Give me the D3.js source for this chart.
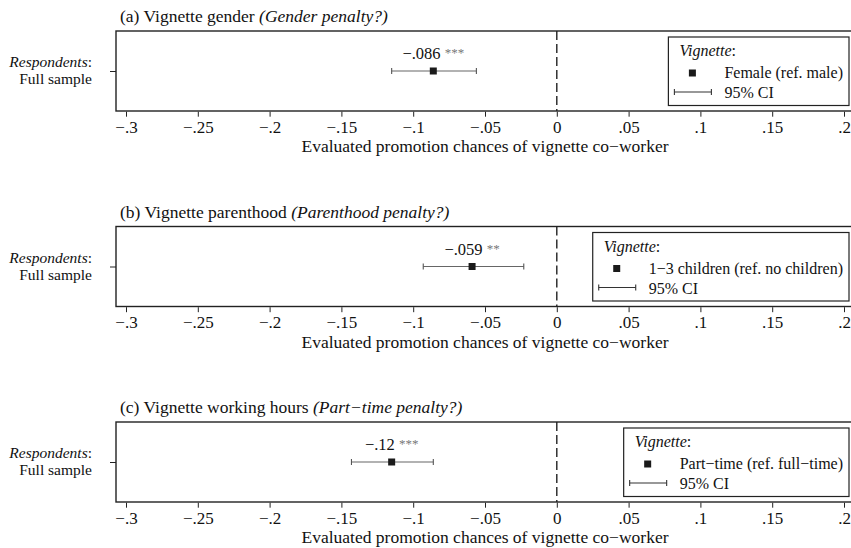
<!DOCTYPE html>
<html>
<head>
<meta charset="utf-8">
<script src="https://cdn.jsdelivr.net/npm/d3@7"></script>
<style>
  body { margin: 0; background: #fff; }
  svg { display: block; font-family: "Liberation Serif", "DejaVu Serif", serif; }
</style>
</head>
<body>
<svg id="chart" width="851" height="548"></svg>
<script>
'use strict';

// chart values
const panelTitles = ['(a) Vignette gender', '(b) Vignette parenthood', '(c) Vignette working hours'];
const panelSubtitles = ['Gender penalty?', 'Parenthood penalty?', 'Part\u2212time penalty?'];
const legendLabels = ['Female (ref. male)', '1\u22123 children (ref. no children)', 'Part\u2212time (ref. full\u2212time)'];
const estimates = [-0.086, -0.059, -0.115];
const ciLower = [-0.115, -0.093, -0.143];
const ciUpper = [-0.056, -0.023, -0.086];
const estimateLabels = ['\u2212.086', '\u2212.059', '\u2212.12'];
const stars = ['***', '**', '***'];
const xTicks = [-0.3, -0.25, -0.2, -0.15, -0.1, -0.05, 0, 0.05, 0.1, 0.15, 0.2];
const xTickLabels = ['\u2212.3', '\u2212.25', '\u2212.2', '\u2212.15', '\u2212.1', '\u2212.05', '0', '.05', '.1', '.15', '.2'];
const rowLabel = 'Full sample';
const xTitle = 'Evaluated promotion chances of vignette co\u2212worker';

const svg = d3.select('#chart');
const panelStep = 195.5;
const boxLeft = 116;
const boxRight = 853;
const boxHeight = 80;
const ink = '#222';

const x = d3.scaleLinear().domain([-0.3, 0.2]).range([126, 844]);

function drawPanel(i) {
    const g = svg.append('g').attr('transform', `translate(0,${i * panelStep})`);
    const top = 31;
    const bottom = top + boxHeight;
    const y = d3.scalePoint().domain([rowLabel]).range([top, bottom]).padding(0.5);
    const cy = y(rowLabel);

    // title
    const title = g.append('text')
        .attr('x', 120).attr('y', 22)
        .attr('font-size', 17.5).attr('fill', '#111');
    title.append('tspan').text(panelTitles[i] + ' ');
    title.append('tspan').attr('font-style', 'italic').text('(' + panelSubtitles[i] + ')');

    // plot box
    g.append('rect')
        .attr('x', boxLeft).attr('y', top)
        .attr('width', boxRight - boxLeft).attr('height', boxHeight)
        .attr('fill', 'none').attr('stroke', ink).attr('stroke-width', 1.4);

    // x axis
    const xAxis = d3.axisBottom(x)
        .tickValues(xTicks)
        .tickSize(5)
        .tickFormat((d, k) => xTickLabels[k]);
    const ax = g.append('g')
        .attr('transform', `translate(0,${bottom + 0.7})`)
        .call(xAxis);
    ax.select('.domain').remove();
    ax.selectAll('line').attr('stroke', ink).attr('stroke-width', 1);
    ax.selectAll('text')
        .attr('font-family', '"Liberation Serif", serif')
        .attr('font-size', 17).attr('fill', '#111').attr('dy', '0.9em').attr('y', 6);

    g.append('text')
        .attr('x', x(-0.05)).attr('y', bottom + 41)
        .attr('text-anchor', 'middle')
        .attr('font-size', 17.5).attr('fill', '#111')
        .text(xTitle);

    // y axis
    const yAxis = d3.axisLeft(y).tickSize(6).tickFormat('');
    const ay = g.append('g').attr('transform', `translate(${boxLeft},0)`).call(yAxis);
    ay.select('.domain').remove();
    ay.selectAll('line').attr('stroke', ink);

    const rl1 = g.append('text')
        .attr('x', 92).attr('y', cy - 4).attr('text-anchor', 'end')
        .attr('font-size', 15.5).attr('fill', '#111');
    rl1.append('tspan').attr('font-style', 'italic').text('Respondents');
    rl1.append('tspan').text(':');
    g.append('text')
        .attr('x', 92).attr('y', cy + 13).attr('text-anchor', 'end')
        .attr('font-size', 15.5).attr('fill', '#111')
        .text(rowLabel);

    // zero reference line
    g.append('line')
        .attr('x1', x(0)).attr('x2', x(0))
        .attr('y1', top).attr('y2', bottom)
        .attr('stroke', ink).attr('stroke-width', 1.4)
        .attr('stroke-dasharray', '9,4');

    // confidence interval
    g.append('line')
        .attr('x1', x(ciLower[i])).attr('x2', x(ciUpper[i]))
        .attr('y1', cy).attr('y2', cy)
        .attr('stroke', '#666').attr('stroke-width', 1.1);
    [ciLower[i], ciUpper[i]].forEach(v => {
        g.append('line')
            .attr('x1', x(v)).attr('x2', x(v))
            .attr('y1', cy - 3).attr('y2', cy + 3)
            .attr('stroke', '#555').attr('stroke-width', 1.1);
    });

    // point estimate
    g.append('rect')
        .attr('x', x(estimates[i]) - 3.5).attr('y', cy - 3.5)
        .attr('width', 7).attr('height', 7)
        .attr('fill', '#1a1a1a');

    const lab = g.append('text')
        .attr('x', x(estimates[i])).attr('y', cy - 12)
        .attr('text-anchor', 'middle')
        .attr('font-size', 16.5).attr('fill', '#111');
    lab.append('tspan').text(estimateLabels[i] + ' ');
    lab.append('tspan').attr('fill', '#777').attr('font-size', 13).attr('dy', -2).text(stars[i]);

    // legend
    const legRight = 849;
    const legTop = top + 6;
    const legFont = 16;
    const legBox = g.append('rect');
    const legText = g.append('text')
        .attr('y', legTop + 41)
        .attr('font-size', legFont).attr('fill', '#111')
        .text(legendLabels[i]);
    const tw = legText.node().getComputedTextLength();
    const textX = legRight - 6 - tw;
    const legLeft = textX - 56;
    legText.attr('x', textX);

    legBox
        .attr('x', legLeft).attr('y', legTop)
        .attr('width', legRight - legLeft).attr('height', 68.5)
        .attr('fill', '#fff').attr('stroke', ink).attr('stroke-width', 1.2);

    const head = g.append('text')
        .attr('x', legLeft + 11).attr('y', legTop + 19)
        .attr('font-size', legFont).attr('fill', '#111');
    head.append('tspan').attr('font-style', 'italic').text('Vignette');
    head.append('tspan').text(':');

    g.append('rect')
        .attr('x', textX - 32 - 3.5).attr('y', legTop + 36 - 3.5)
        .attr('width', 7).attr('height', 7)
        .attr('fill', '#1a1a1a');

    const ly = legTop + 55;
    g.append('line')
        .attr('x1', legLeft + 6).attr('x2', textX - 13)
        .attr('y1', ly).attr('y2', ly)
        .attr('stroke', '#333').attr('stroke-width', 1.1);
    [legLeft + 6, textX - 13].forEach(v => {
        g.append('line')
            .attr('x1', v).attr('x2', v)
            .attr('y1', ly - 3).attr('y2', ly + 3)
            .attr('stroke', '#333').attr('stroke-width', 1.1);
    });
    g.append('text')
        .attr('x', textX).attr('y', ly + 6)
        .attr('font-size', legFont).attr('fill', '#111')
        .text('95% CI');
}

[0, 1, 2].forEach(drawPanel);
</script>
</body>
</html>
